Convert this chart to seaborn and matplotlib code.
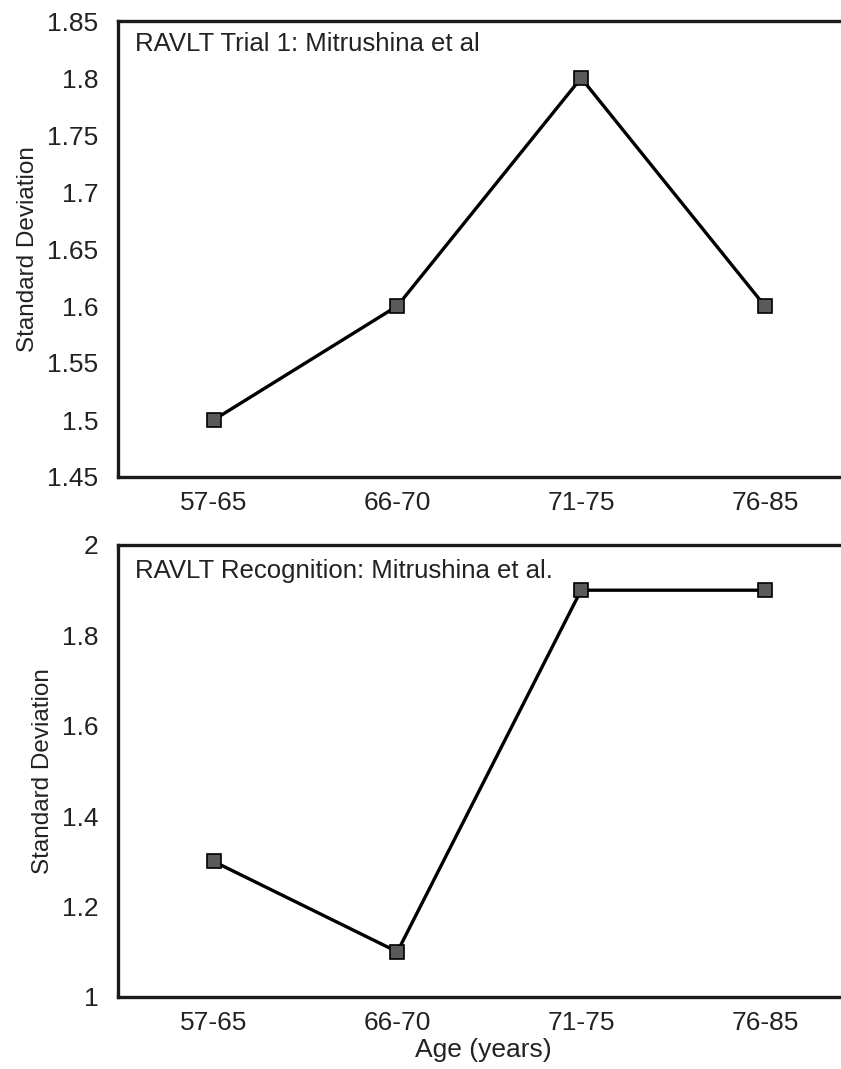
import matplotlib
matplotlib.use("Agg")
import matplotlib.pyplot as plt
from matplotlib.ticker import FuncFormatter
import seaborn as sns

# Age groups and standard deviations for the two RAVLT measures
age_groups = ["57-65", "66-70", "71-75", "76-85"]
trial1_sd = [1.5, 1.6, 1.8, 1.6]
recognition_sd = [1.3, 1.1, 1.9, 1.9]

trial1_ticks = [1.45, 1.5, 1.55, 1.6, 1.65, 1.7, 1.75, 1.8, 1.85]
recognition_ticks = [1.0, 1.2, 1.4, 1.6, 1.8, 2.0]

trial1_title = "RAVLT Trial 1: Mitrushina et al"
recognition_title = "RAVLT Recognition: Mitrushina et al."

sns.set_style("white")
plt.rcParams["font.family"] = ["Liberation Sans", "DejaVu Sans"]

fig = plt.figure(figsize=(8.41, 10.69), dpi=100)
left = 118 / 841
width = 1.0 - left + 0.01
ax_top = fig.add_axes([left, 1 - 477 / 1069, width, (477 - 21) / 1069])
ax_bot = fig.add_axes([left, 1 - 997 / 1069, width, (997 - 545) / 1069])

fmt = FuncFormatter(lambda v, _: f"{v:g}")

panels = [
    (ax_top, trial1_sd, trial1_ticks, trial1_title, 0.975),
    (ax_bot, recognition_sd, recognition_ticks, recognition_title, 0.968),
]

for ax, vals, ticks, title, ty in panels:
    sns.lineplot(
        x=age_groups, y=vals, ax=ax, sort=False,
        color="black", linewidth=2.4,
        marker="s", markersize=9.5, markerfacecolor="#5a5a5a",
        markeredgecolor="black", markeredgewidth=1.2,
    )
    ax.set_xlim(-0.52, 3.46)
    ax.set_ylim(ticks[0], ticks[-1])
    ax.set_yticks(ticks)
    ax.yaxis.set_major_formatter(fmt)
    ax.tick_params(axis="both", length=0, labelsize=19, colors="#222222")
    ax.tick_params(axis="y", pad=14)
    ax.tick_params(axis="x", pad=10)
    for side in ("left", "top", "bottom"):
        ax.spines[side].set_visible(True)
        ax.spines[side].set_linewidth(2.4)
        ax.spines[side].set_color("#1a1a1a")
    ax.spines["right"].set_visible(False)
    ax.set_ylabel("Standard Deviation", fontsize=17.5, color="#222222", labelpad=6)
    ax.set_xlabel("")
    ax.text(0.023, ty, title, transform=ax.transAxes, ha="left", va="top",
            fontsize=18.5, color="#222222")

ax_bot.set_xlabel("Age (years)", fontsize=19, color="#222222", labelpad=2)

fig.savefig("out.png", dpi=100, facecolor="white")
